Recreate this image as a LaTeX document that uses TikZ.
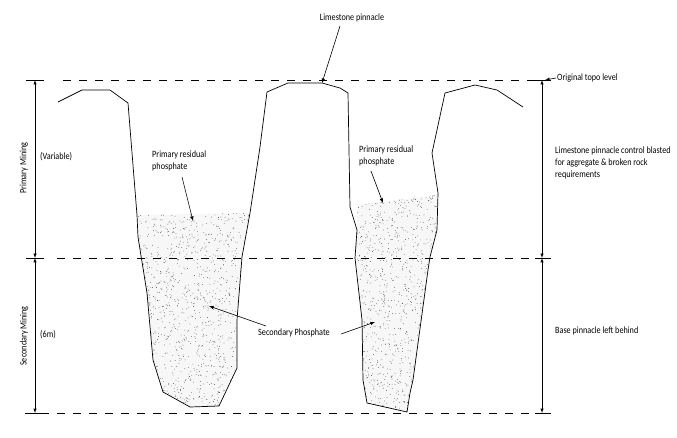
\documentclass[tikz,border=0pt]{standalone}
\usepackage{fontspec}
\setmainfont{Carlito}[FakeStretch=0.85]
\begin{document}
\begin{tikzpicture}[x=1pt,y=-1pt,
  lbl/.style={font=\fontsize{9.6}{12}\selectfont,inner sep=1pt,align=left},
  lvl/.style={dash pattern=on 8pt off 8pt,line width=0.6pt},
  wall/.style={line width=0.7pt},
  arr/.style={-latex,line width=0.6pt},
  dim/.style={latex-latex,line width=0.5pt}]
\useasboundingbox (0,0) rectangle (677,437);
% fills
\begin{scope}
\clip (137,215) -- (250,213) -- (242,257) -- (237,320) -- (237,368) -- (219,406) -- (190,407) -- (163,392) -- (153,360) -- (147,293) -- (138,237) -- cycle;
\fill[gray!6] (130,205) rectangle (260,415);
\pgfmathsetseed{7}
\foreach \i in {1,...,1400}{\fill[gray!60!black] (130+rnd*125,205+rnd*210) circle (0.4);}
\end{scope}
\begin{scope}
\clip (357,205) -- (438,195) -- (437,230) -- (430,257) -- (428,270) -- (413,380) -- (410,393) -- (407,412) -- (367,403) -- (363,380) -- (362,320) -- (355,258) -- (357,230) -- cycle;
\fill[gray!6] (350,190) rectangle (445,415);
\foreach \i in {1,...,1200}{\fill[gray!60!black] (350+rnd*95,190+rnd*225) circle (0.4);}
\end{scope}
% walls
\draw[wall] (58,102) -- (82,90) -- (110,90) -- (128,103) -- (137,215) -- (138,237) -- (147,293) -- (153,360) -- (163,392) -- (190,407) -- (219,406) -- (237,368) -- (237,320) -- (242,257) -- (250,213) -- (260,147) -- (267,92) -- (288,83) -- (322,83) -- (340,88) -- (348,93) -- (350,207) -- (357,230) -- (355,258) -- (362,320) -- (363,380) -- (367,403) -- (407,412) -- (410,393) -- (413,380) -- (428,270) -- (430,257) -- (437,230) -- (438,193) -- (432,153) -- (445,93) -- (475,85) -- (497,90) -- (523,107);
% levels
\draw[lvl] (63,80) -- (545,80);
\draw[lvl] (57,258) -- (545,258);
\draw[lvl] (25,413) -- (545,413);
% dimension lines
\coordinate (lt) at (35,80); \coordinate (lm) at (35,258); \coordinate (lb) at (35,413);
\coordinate (rt) at (542,80); \coordinate (rm) at (542,258); \coordinate (rb) at (542,413);
\draw[dim] (lt) -- (lm); \draw[dim] (lm) -- (lb);
\draw[dim] (rt) -- (rm); \draw[dim] (rm) -- (rb);
\foreach \p in {lt,lm,lb}{\draw[line width=0.5pt] ([xshift=-9pt]\p) -- ([xshift=9pt]\p);}
\foreach \p in {rt,rm,rb}{\draw[line width=0.5pt] ([xshift=-7pt]\p) -- ([xshift=9pt]\p);}
% labels
\node[lbl] (lp) at (352,18) {Limestone pinnacle};
\coordinate (lpt) at (322,83);
\draw[arr] (340,26) -- (lpt);
\node[lbl,anchor=west] (otl) at (556,78) {Original topo level};
\coordinate (ott) at (545,80);
\draw[arr] (otl.west) -- (ott);
\node[lbl,rotate=90] (pm) at (24,168) {Primary Mining};
\node[lbl,rotate=90] (sm) at (24,336) {Secondary Mining};
\node[lbl,anchor=west] (var) at (39,157) {(Variable)};
\node[lbl,anchor=west] (sixm) at (39,335) {(6m)};
\node[lbl,anchor=north west] (pr1) at (151,150) {Primary residual\\phosphate};
\coordinate (pr1t) at (193,221);
\draw[arr] (182,177) -- (pr1t);
\node[lbl,anchor=north west] (pr2) at (358,145) {Primary residual\\phosphate};
\coordinate (pr2t) at (383,203);
\draw[arr] (371,171) -- (pr2t);
\node[lbl,anchor=west] (sp) at (257,333) {Secondary Phosphate};
\coordinate (sp1) at (209,306); \coordinate (sp2) at (375,322);
\draw[arr] (266,326) -- (sp1);
\draw[arr] (341,334) -- (sp2);
\node[lbl,anchor=north west] (lpc) at (554,146) {Limestone pinnacle control blasted\\for aggregate \& broken rock\\requirements};
\node[lbl,anchor=west] (bp) at (554,331) {Base pinnacle left behind};
\end{tikzpicture}
\end{document}
